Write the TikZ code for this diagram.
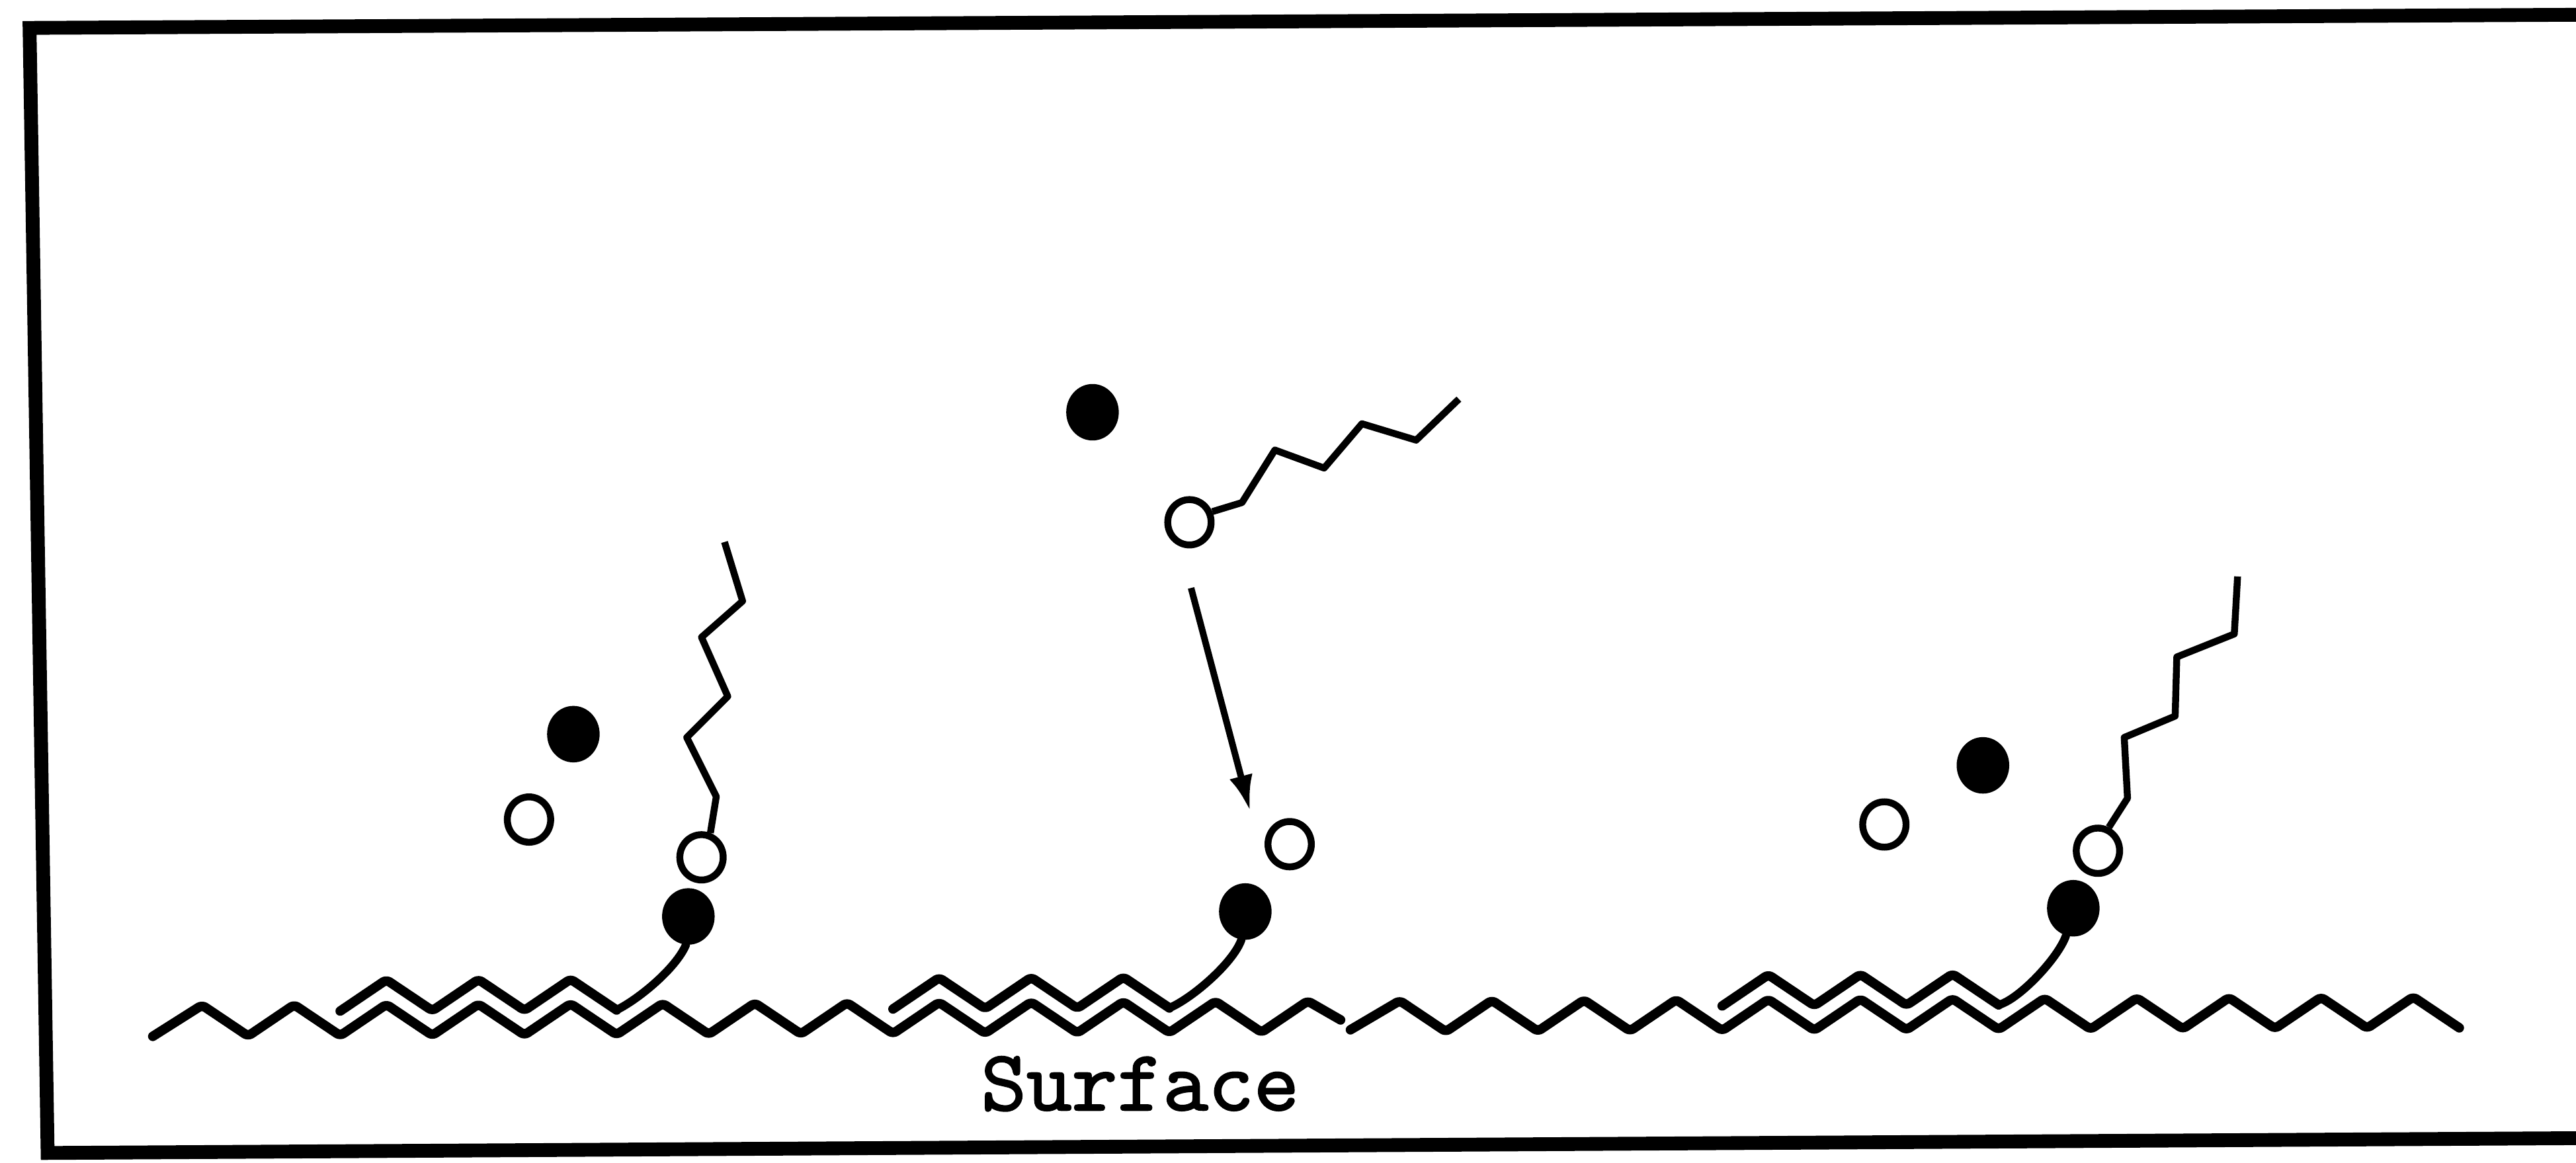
\documentclass[tikz,border=0pt]{standalone}
\usepackage{fontspec}
\usetikzlibrary{arrows.meta,shapes.geometric}
\newfontfamily\surffont{lmmono10-regular.otf}[FakeBold=1.6]
\tikzset{>={Latex[length=5.5mm,width=3.6mm]},
  ion/.style={ellipse,draw,line width=1.05mm,minimum width=6.6mm,minimum height=6.9mm,inner sep=0pt},
  dot/.style={ellipse,fill,minimum width=8mm,minimum height=8.6mm,inner sep=0pt},
  wave/.style={line width=1.45mm,line join=round,line cap=round,rounded corners=0.6mm},
  chain/.style={line width=1.05mm,line join=round},
  tail/.style={line width=1.25mm,line cap=round}}
% adsorbed film: three zigzags above the surface, starting at trough #1, end named #2
\newcommand*{\film}[2]{%
  \draw[wave] ({151+56.08*#1},{615.8-0.208*#1})
    \foreach \k in {1,2,3} {
      -- ({123+56.08*(#1+\k)},{597-0.208*(#1+\k)})
      -- ({151+56.08*(#1+\k)},{615.8-0.208*(#1+\k)}) };
  \coordinate (#2) at ({151+56.08*(#1+3)},{615.8-0.208*(#1+3)});}

\begin{document}
\begin{tikzpicture}[x=0.25mm,y=-0.25mm]
\useasboundingbox (0,0) rectangle (1568,708);
\draw[line width=2.1mm] (1568,9) -- (18,17) -- (29,702) -- (1568,693);
% the surface
\draw[wave] (93,631) \foreach \k in {0,...,11}
  { -- ({123+56.08*\k},{612-0.208*\k}) -- ({151+56.08*\k},{630.8-0.208*\k}) }
  -- (796,609.5) -- (816,621);
\draw[wave] (822,627) \foreach \k in {13,...,24}
  { -- ({123+56.08*\k},{612-0.208*\k}) -- ({151+56.08*\k},{630.8-0.208*\k}) };
\node[font=\surffont\fontsize{37.5}{40}\selectfont,anchor=base] (surf) at (694,676) {Surface};
\film{1}{eL}
\film{7}{eM}
\film{16}{eR}
% left
\node[dot] (bL) at (349,447) {};
\node[ion] (wL) at (322,499) {};
\node[ion] (hL) at (427,522) {};
\node[dot] (aL) at (419,558) {};
\draw[chain] (hL.70) -- (436,485) -- (418,449) -- (443,424) -- (427,388)
  -- (452,366) -- (441,330) coordinate (tL);
\draw[tail] (eL) .. controls +(14,-7) and +(-6,14) .. (aL.265);
% middle
\node[dot] (bM) at (665,251) {};
\node[ion] (hM) at (724,318) {};
\node[ion] (wM) at (785,514) {};
\node[dot] (aM) at (758,555) {};
\draw[chain] (hM.25) -- (756,306) -- (776,274) -- (806,285) -- (829,258)
  -- (862,268) -- (888,243) coordinate (tM);
\draw[tail] (eM) .. controls +(14,-6) and +(-5,14) .. (aM.262);
\coordinate (s) at (725,358);
\coordinate (t) at (761,494);
\draw[->,line width=1mm] (s) -- (t);
% right
\node[dot] (bR) at (1207,466) {};
\node[ion] (wR) at (1147,502) {};
\node[ion] (hR) at (1277,518) {};
\node[dot] (aR) at (1262,553) {};
\draw[chain] (hR.65) -- (1295,486) -- (1293,449) -- (1324,436) -- (1325,400)
  -- (1360,386) -- (1362,351) coordinate (tR);
\draw[tail] (eR) .. controls +(12,-3) and +(-5,14) .. (aR.255);
\end{tikzpicture}
\end{document}
